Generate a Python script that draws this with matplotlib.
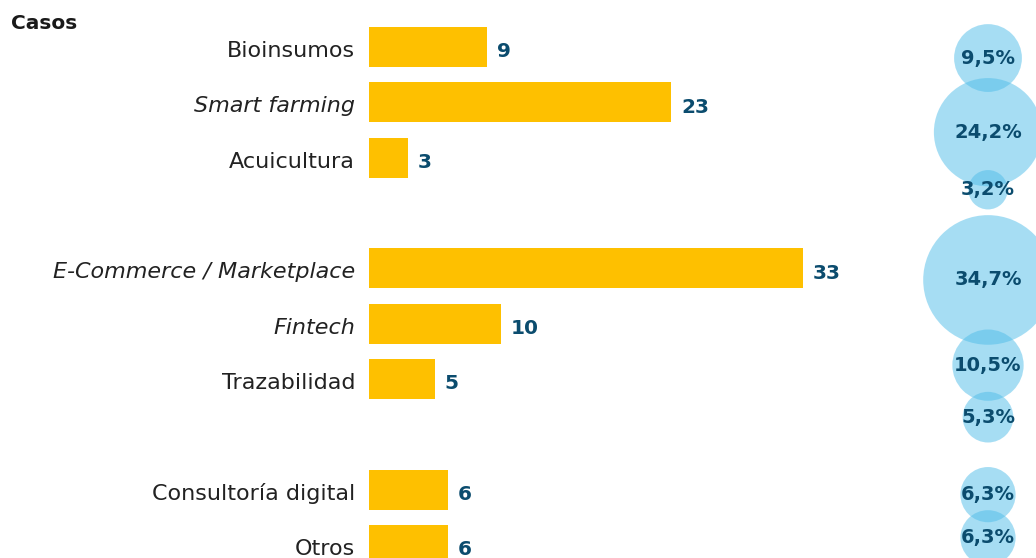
import matplotlib.pyplot as plt
import numpy as np

# data
categories = ['Bioinsumos', 'Smart farming', 'Acuicultura',
              'E-Commerce / Marketplace', 'Fintech', 'Trazabilidad',
              'Consultoría digital', 'Otros']
casos = [9, 23, 3, 33, 10, 5, 6, 6]
porcentajes = [9.5, 24.2, 3.2, 34.7, 10.5, 5.3, 6.3, 6.3]
grupo = [0, 0, 0, 1, 1, 1, 2, 2]
cursiva = [False, True, False, True, True, False, False, False]

# layout: bubble vertical shift (in bar slots) relative to its bar
bubble_shift = [0.20, 0.54, 0.58, 0.21, 0.75, 0.69, 0.09, -0.13]

BAR = '#FEC000'
NUM = '#0B4C6E'
BUBBLE = '#4FBDE9'

plt.rcParams['font.family'] = ['DejaVu Sans']

ypos = np.arange(len(categories)) + np.array(grupo)

fig = plt.figure(figsize=(10.36, 5.58), dpi=100)
ax = fig.add_axes([0, 0, 1, 1])
ax.set_xlim(-28.06, 50.72)
ax.set_ylim(9.235, -0.849)
ax.axis('off')

ax.barh(ypos, casos, height=0.72, color=BAR)

for y, v, name, it in zip(ypos, casos, categories, cursiva):
    ax.annotate(str(v), xy=(v, y), xytext=(7, -3.5), textcoords='offset points',
                ha='left', va='center', fontsize=14.5, fontweight='bold', color=NUM)
    ax.annotate(name, xy=(0, y), xytext=(-10, -3), textcoords='offset points',
                ha='right', va='center', fontsize=16, color='#222222',
                style='italic' if it else 'normal')

by = ypos + np.array(bubble_shift)
bx = np.full(len(by), 47.07)
ax.scatter(bx, by, s=np.array(porcentajes) * 251, color=BUBBLE, alpha=0.5,
           linewidths=0, zorder=3)
for x, y, p in zip(bx, by, porcentajes):
    ax.text(x, y, f'{p:.1f}%'.replace('.', ','), ha='center', va='center',
            fontsize=14, fontweight='bold', color=NUM, zorder=4)

fig.text(0.011, 0.957, 'Casos', ha='left', va='center', fontsize=14.5,
         fontweight='bold', color='#1a1a1a')

fig.savefig('out.png', dpi=100)
